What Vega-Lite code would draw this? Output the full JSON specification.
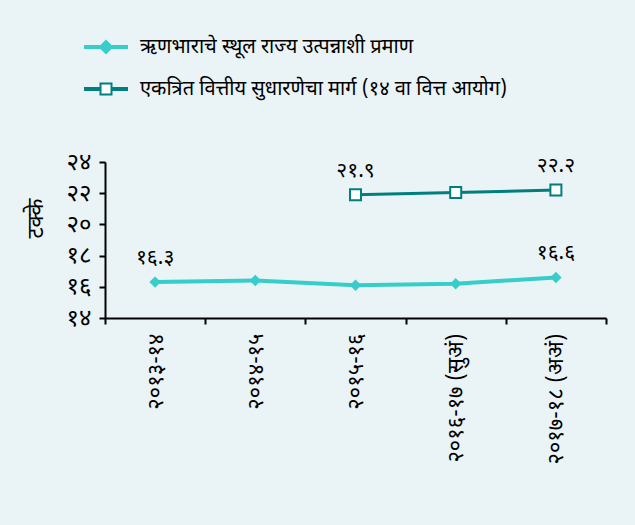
{
  "$schema": "https://vega.github.io/schema/vega-lite/v6.json",
  "width": 501,
  "height": 156,
  "autosize": "none",
  "padding": {"left": 105, "top": 162, "right": 29, "bottom": 207},
  "background": "#eaf3f5",
  "config": {
    "view": {"stroke": null},
    "font": "Noto Sans Devanagari, Noto Serif Devanagari, Lohit Devanagari, Noto Sans, sans-serif",
    "axis": {"domainColor": "#000000", "domainWidth": 2, "tickColor": "#000000", "tickWidth": 2, "tickSize": 6, "labelColor": "#000000", "titleColor": "#000000", "grid": false}
  },
  "data": {
    "values": [
      {"year": "२०१३-१४", "series": "ऋणभाराचे स्थूल राज्य उत्पन्नाशी प्रमाण", "value": 16.3, "label": "१६.३"},
      {"year": "२०१४-१५", "series": "ऋणभाराचे स्थूल राज्य उत्पन्नाशी प्रमाण", "value": 16.4, "label": ""},
      {"year": "२०१५-१६", "series": "ऋणभाराचे स्थूल राज्य उत्पन्नाशी प्रमाण", "value": 16.1, "label": ""},
      {"year": "२०१६-१७ (सुअं)", "series": "ऋणभाराचे स्थूल राज्य उत्पन्नाशी प्रमाण", "value": 16.2, "label": ""},
      {"year": "२०१७-१८ (अअं)", "series": "ऋणभाराचे स्थूल राज्य उत्पन्नाशी प्रमाण", "value": 16.6, "label": "१६.६"},
      {"year": "२०१५-१६", "series": "एकत्रित वित्तीय सुधारणेचा मार्ग (१४ वा वित्त आयोग)", "value": 21.9, "label": "२१.९"},
      {"year": "२०१६-१७ (सुअं)", "series": "एकत्रित वित्तीय सुधारणेचा मार्ग (१४ वा वित्त आयोग)", "value": 22.05, "label": ""},
      {"year": "२०१७-१८ (अअं)", "series": "एकत्रित वित्तीय सुधारणेचा मार्ग (१४ वा वित्त आयोग)", "value": 22.2, "label": "२२.२"}
    ]
  },
  "encoding": {
    "x": {
      "field": "year", "type": "nominal", "sort": null,
      "scale": {"type": "band", "paddingInner": 0, "paddingOuter": 0, "domain": ["२०१३-१४", "२०१४-१५", "२०१५-१६", "२०१६-१७ (सुअं)", "२०१७-१८ (अअं)"]},
      "axis": {"title": null, "tickBand": "extent", "labelAngle": -90, "labelAlign": "right", "labelBaseline": "middle", "labelFontSize": 22, "labelPadding": 9}
    },
    "y": {
      "field": "value", "type": "quantitative",
      "scale": {"domain": [14, 24], "nice": false, "zero": false},
      "axis": {"title": "टक्के", "titleFontSize": 22, "titleFontWeight": "normal", "titleX": -58, "titleY": 56, "titleAngle": -90, "values": [14, 16, 18, 20, 22, 24], "labelFontSize": 24, "labelPadding": 8,
        "labelExpr": "{'14':'१४','16':'१६','18':'१८','20':'२०','22':'२२','24':'२४'}[datum.label]"}
    }
  },
  "layer": [
    {"transform": [{"filter": {"field": "series", "equal": "ऋणभाराचे स्थूल राज्य उत्पन्नाशी प्रमाण"}}],
     "mark": {"type": "line", "color": "#36cdca", "strokeWidth": 4}},
    {"transform": [{"filter": {"field": "series", "equal": "एकत्रित वित्तीय सुधारणेचा मार्ग (१४ वा वित्त आयोग)"}}],
     "mark": {"type": "line", "color": "#007f7f", "strokeWidth": 3}},
    {"transform": [{"filter": {"field": "series", "equal": "ऋणभाराचे स्थूल राज्य उत्पन्नाशी प्रमाण"}}],
     "mark": {"type": "point", "shape": "diamond", "size": 130, "filled": true, "color": "#36cdca", "opacity": 1}},
    {"transform": [{"filter": {"field": "series", "equal": "एकत्रित वित्तीय सुधारणेचा मार्ग (१४ वा वित्त आयोग)"}}],
     "mark": {"type": "point", "shape": "square", "size": 121, "fill": "#ffffff", "stroke": "#007f7f", "strokeWidth": 2, "opacity": 1}},
    {"transform": [{"filter": "datum.label != ''"}],
     "mark": {"type": "text", "dy": -24, "fontSize": 21, "color": "#000000"},
     "encoding": {"text": {"field": "label"}}},
    {"mark": {"type": "point", "opacity": 0},
     "encoding": {
       "shape": {"field": "series", "type": "nominal",
         "scale": {"domain": ["ऋणभाराचे स्थूल राज्य उत्पन्नाशी प्रमाण", "एकत्रित वित्तीय सुधारणेचा मार्ग (१४ वा वित्त आयोग)"],
                   "range": ["M-4,-0.18H4M-4,0H4M-4,0.18H4M-1.1,0L0,-1.1L1.1,0L0,1.1Z", "M-4,-0.18H-1M-4,0H-1M-4,0.18H-1M1,-0.18H4M1,0H4M1,0.18H4M-1,-1H1V1H-1Z"]},
         "legend": {"title": null, "orient": "none", "legendX": -9, "legendY": -125, "padding": 0, "symbolSize": 121, "symbolOpacity": 1, "symbolStrokeWidth": 2, "labelFontSize": 20, "labelColor": "#000000", "labelOffset": 24, "rowPadding": 21, "labelLimit": 600}},
       "stroke": {"field": "series", "type": "nominal",
         "scale": {"domain": ["ऋणभाराचे स्थूल राज्य उत्पन्नाशी प्रमाण", "एकत्रित वित्तीय सुधारणेचा मार्ग (१४ वा वित्त आयोग)"], "range": ["#36cdca", "#007f7f"]},
         "legend": {"title": null, "orient": "none", "legendX": -9, "legendY": -125, "padding": 0, "symbolSize": 121, "symbolOpacity": 1, "symbolStrokeWidth": 2, "labelFontSize": 20, "labelColor": "#000000", "labelOffset": 24, "rowPadding": 21, "labelLimit": 600}},
       "fill": {"field": "series", "type": "nominal",
         "scale": {"domain": ["ऋणभाराचे स्थूल राज्य उत्पन्नाशी प्रमाण", "एकत्रित वित्तीय सुधारणेचा मार्ग (१४ वा वित्त आयोग)"], "range": ["#36cdca", "#ffffff"]},
         "legend": {"title": null, "orient": "none", "legendX": -9, "legendY": -125, "padding": 0, "symbolSize": 121, "symbolOpacity": 1, "symbolStrokeWidth": 2, "labelFontSize": 20, "labelColor": "#000000", "labelOffset": 24, "rowPadding": 21, "labelLimit": 600}}
     }}
  ]
}
